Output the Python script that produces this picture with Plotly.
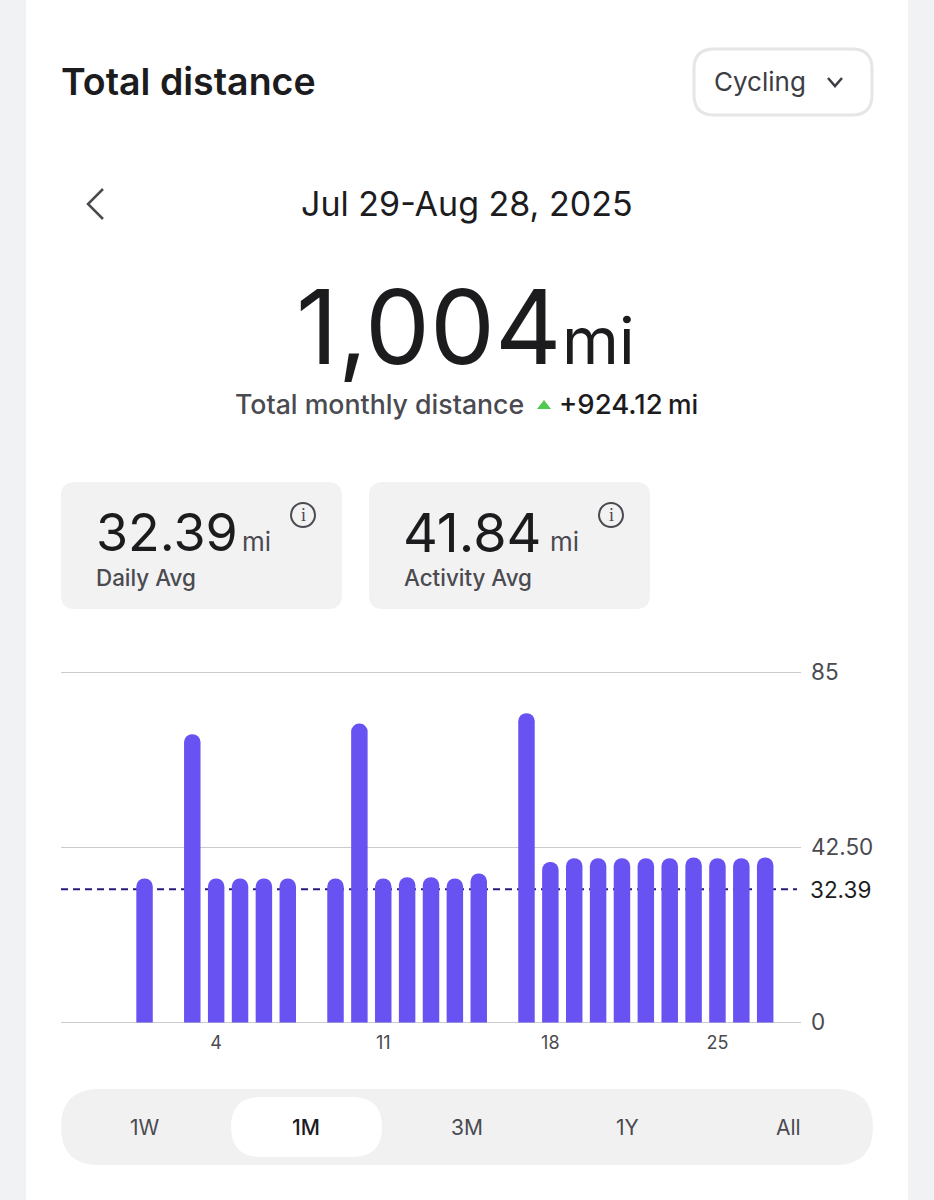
import plotly.graph_objects as go

# ---- data ----
days = ["Jul 29", "Jul 30", "Jul 31"] + [f"Aug {d}" for d in range(1, 29)]
distance = [0, 0, 0,
            35, 0, 70, 35, 35, 35, 35, 0,
            35, 72.6, 35, 35.3, 35.3, 35, 36.2, 0,
            75.1, 39, 39.9, 39.9, 39.9, 39.9, 39.9, 40.1,
            39.9, 39.9, 40.1, 0]
daily_avg = 32.39
y_ticks = [0, 42.5, 85]
y_tick_labels = ["0", "42.50", "85"]
x_ticks = ["Aug 4", "Aug 11", "Aug 18", "Aug 25"]
x_tick_labels = ["4", "11", "18", "25"]
ranges = ["1W", "1M", "3M", "1Y", "All"]

W, H = 934, 1200
FONT = "Inter"
BAR = "#6853f2"
PX_PER_UNIT = 350 / 85
AXIS_PAD = 1.0  # keeps the end gridlines from being clipped


def fx(x):
    return x / W


def fy(y):
    return 1 - y / H


def rrect(x0, y0, x1, y1, r, fill, line=None, lw=0):
    p = (f"M{fx(x0 + r)},{fy(y0)} L{fx(x1 - r)},{fy(y0)} Q{fx(x1)},{fy(y0)} {fx(x1)},{fy(y0 + r)} "
         f"L{fx(x1)},{fy(y1 - r)} Q{fx(x1)},{fy(y1)} {fx(x1 - r)},{fy(y1)} "
         f"L{fx(x0 + r)},{fy(y1)} Q{fx(x0)},{fy(y1)} {fx(x0)},{fy(y1 - r)} "
         f"L{fx(x0)},{fy(y0 + r)} Q{fx(x0)},{fy(y0)} {fx(x0 + r)},{fy(y0)} Z")
    return dict(type="path", xref="paper", yref="paper", path=p, fillcolor=fill,
                line=dict(color=line or fill, width=lw), layer="below")


def poly(pts, color, width=0, fill=None, closed=False):
    p = "M" + " L".join(f"{fx(x)},{fy(y)}" for x, y in pts) + (" Z" if closed else "")
    return dict(type="path", xref="paper", yref="paper", path=p,
                fillcolor=fill if fill else "rgba(0,0,0,0)",
                line=dict(color=color, width=width), layer="below")


def circle(cx, cy, r, color, width):
    return dict(type="circle", xref="paper", yref="paper", x0=fx(cx - r), x1=fx(cx + r),
                y0=fy(cy + r), y1=fy(cy - r), line=dict(color=color, width=width),
                fillcolor="rgba(0,0,0,0)", layer="below")


def txt(s, x, y, size, color="#1c1c1e", anchor="left", weight=400, family=FONT):
    return dict(text=s, xref="paper", yref="paper", x=fx(x), y=fy(y), xanchor=anchor,
                yanchor="middle", showarrow=False, borderpad=0,
                font=dict(family=family, size=size, color=color, weight=weight))


shapes = [
    rrect(26, -40, 908, 1260, 22, "#ffffff"),
    rrect(694, 49, 872, 115, 20, "#ffffff", "#e6e6e8", 3),
    poly([(828, 78), (835, 86), (842, 78)], "#3c3c43", 2.5),
    poly([(103, 189), (88, 204), (103, 219)], "#4a4a50", 2.5),
    poly([(537, 409), (544, 400), (551, 409)], "#4fc94f", 0, fill="#4fc94f", closed=True),
    rrect(61, 482, 342, 609, 14, "#f2f2f3"),
    rrect(369, 482, 650, 609, 14, "#f2f2f3"),
    circle(303, 515, 12, "#4a4a50", 2),
    circle(611, 515, 12, "#4a4a50", 2),
    rrect(61, 1089, 873, 1165, 38, "#f1f1f2"),
    rrect(231, 1097, 382, 1157, 30, "#ffffff"),
    dict(type="line", xref="paper", yref="y", x0=fx(61), x1=fx(797), y0=daily_avg, y1=daily_avg,
         line=dict(color="#2b1a7a", width=2, dash="7px,5px"), layer="below"),
]

annotations = [
    txt("Total distance", 60, 81, 37.5, "#1c1c1e", weight=600),
    txt("Cycling", 713, 81, 26, "#3c3c43"),
    txt("Jul 29-Aug 28, 2025", 467, 203, 34, "#1c1c1e", "center"),
    txt("1,004", 562, 326, 103, "#1c1c1e", "right"),
    txt("mi", 561, 340, 65, "#1c1c1e"),
    txt("Total monthly distance", 234, 404, 26.7, "#4a4a50", weight=500),
    txt("+924.12", 558, 404, 27.5, "#1c1c1e", weight=500),
    txt("mi", 667, 404, 26.5, "#1c1c1e", weight=500),
    txt("32.39", 95, 533, 52),
    txt("mi", 241, 541, 26, "#4a4a50"),
    txt("Daily Avg", 95, 577, 22.4, "#4a4a50", weight=500),
    txt("41.84", 402, 533, 54),
    txt("mi", 549, 541, 26, "#4a4a50"),
    txt("Activity Avg", 403, 577, 22.4, "#4a4a50", weight=500),
    txt("i", 303, 515, 18, "#4a4a50", "center", 400, "Liberation Serif"),
    txt("i", 611, 515, 18, "#4a4a50", "center", 400, "Liberation Serif"),
    dict(text=f"{daily_avg}", xref="paper", yref="y", x=fx(809), y=daily_avg, xanchor="left",
         yanchor="middle", showarrow=False, borderpad=0,
         font=dict(family=FONT, size=22.5, color="#1c1c1e")),
]
for label, cx in zip(ranges, [145, 306, 467, 627, 788]):
    on = label == "1M"
    annotations.append(txt(label, cx, 1127, 21, "#1c1c1e" if on else "#4a4a50", "center", 500 if on else 400))

fig = go.Figure(go.Bar(x=days, y=distance, marker=dict(color=BAR, cornerradius=8, line=dict(width=0)),
                       hoverinfo="skip"))
fig.update_layout(
    template="none",
    width=W, height=H, margin=dict(l=0, r=0, t=0, b=0, pad=0, autoexpand=False), autosize=False,
    paper_bgcolor="#f1f2f4", plot_bgcolor="rgba(0,0,0,0)", bargap=0.31, showlegend=False,
    shapes=shapes, annotations=annotations,
    xaxis=dict(domain=[fx(61), fx(801)], type="category", categoryorder="array", categoryarray=days,
               tickmode="array", tickvals=x_ticks, ticktext=x_tick_labels, ticklen=0, automargin=False,
               ticklabelstandoff=3, showgrid=False, zeroline=False, showline=False,
               tickfont=dict(family=FONT, size=18, color="#4a4a50")),
    yaxis=dict(domain=[fy(1022.5 + AXIS_PAD * PX_PER_UNIT), fy(672.5 - AXIS_PAD * PX_PER_UNIT)],
               range=[-AXIS_PAD, 85 + AXIS_PAD], side="right", anchor="x", automargin=False,
               tickmode="array", tickvals=y_ticks, ticktext=y_tick_labels, ticklen=0,
               ticklabelstandoff=9, showgrid=True, gridcolor="#cbcbcf", gridwidth=1.3,
               zeroline=False, showline=False,
               tickfont=dict(family=FONT, size=22.5, color="#4a4a50")),
)
fig.write_html("out.html", config=dict(displayModeBar=False),
               post_script="document.body.style.margin='0';document.body.style.background='#f1f2f4';")
